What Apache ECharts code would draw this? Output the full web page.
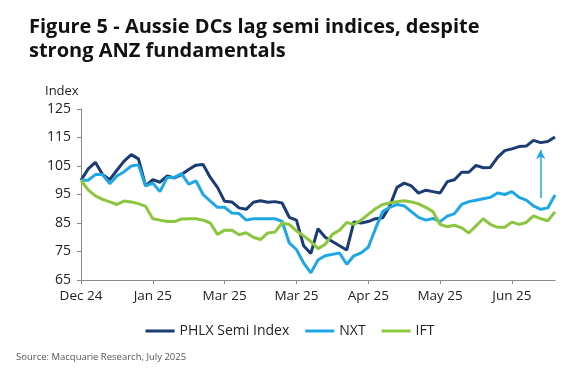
<!DOCTYPE html>
<html>
<head>
<meta charset="utf-8">
<script src="https://cdn.jsdelivr.net/npm/echarts@6/dist/echarts.min.js"></script>
<style>
  html, body { margin: 0; padding: 0; background: #fff; }
  #chart { width: 580px; height: 375px; }
</style>
</head>
<body>
<div id="chart"></div>
<script>
// tick labels shown every 10 points on the x axis
var tickLabels = ["Dec 24", "Jan 25", "Mar 25", "Mar 25", "Apr 25", "May 25", "Jun 25"];

var phlx = [
  100, 104, 106.3, 102, 100.2, 103.5, 106.7, 109, 107.5, 98,
  100.2, 99.3, 101.5, 100.8, 102, 103.8, 105.3, 105.5, 101, 97.5,
  92.6, 92.4, 90.3, 89.8, 92.3, 92.8, 92.3, 92.5, 92, 87,
  86, 77, 74.3, 83, 80, 78.5, 77, 75.5, 85.4, 85,
  85.5, 86.5, 86.8, 91, 97.5, 99, 98, 95.5, 96.5, 96,
  95.5, 99.5, 100.2, 102.8, 102.8, 105.2, 104.4, 104.5, 108, 110.4,
  111, 111.8, 112, 114, 113.2, 113.6, 115.2
];

var nxt = [
  100, 100, 102, 102, 98.8, 101.5, 103, 105, 105.4, 98,
  99, 96, 101, 101, 102.3, 98.6, 99.8, 95, 92.7, 90.5,
  90.5, 88.5, 88.3, 86, 86.5, 86.5, 86.5, 86.5, 85.6, 78,
  75.7, 71, 67.5, 72, 73.5, 74, 74.5, 70.5, 73.5, 74.5,
  76.5, 83, 89, 90.5, 91.5, 91, 89, 87, 86, 86.6,
  85.5, 87.4, 88.3, 91.5, 92.5, 93, 93.5, 94, 95.5, 95,
  96, 94, 93, 91, 89.8, 90.3, 94.8
];

var ift = [
  100, 96.6, 94.5, 93.3, 92.4, 91.5, 92.7, 92.4, 91.8, 90.8,
  86.5, 86, 85.5, 85.5, 86.4, 86.5, 86.5, 86, 85, 81,
  82.5, 82.5, 80.9, 81.6, 80, 79.2, 81.5, 81.8, 85, 84.5,
  82.2, 80.5, 78.5, 76, 77.5, 81, 82.5, 85.2, 84.5, 86,
  88, 90, 91.5, 92, 92.5, 92.8, 92.4, 91.7, 90.5, 89,
  84.5, 83.7, 84.2, 83.3, 81.5, 84, 86.5, 84.5, 83.5, 83.5,
  85.3, 84.5, 85.2, 87.5, 86.5, 85.8, 88.9
];

// one category per observation
var days = phlx.map(function (v, i) { return "d" + i; });

var chart = echarts.init(document.getElementById("chart"));

var option = {
  animation: false,
  textStyle: { fontFamily: "Open Sans, Noto Sans, sans-serif" },
  title: [
    {
      text: "Figure 5 - Aussie DCs lag semi indices, despite\nstrong ANZ fundamentals",
      left: 24,
      top: 10,
      textStyle: { fontSize: 20, fontWeight: "bold", color: "#111", lineHeight: 24 }
    },
    {
      text: "Index",
      left: 40,
      top: 80,
      textStyle: { fontSize: 13, fontWeight: "normal", color: "#222" }
    },
    {
      text: "Source: Macquarie Research, July 2025",
      left: 11,
      top: 347,
      textStyle: { fontSize: 9.5, fontWeight: "normal", color: "#555" }
    }
  ],
  legend: {
    data: ["PHLX Semi Index", "NXT", "IFT"],
    left: "center",
    top: 319,
    icon: "rect",
    itemWidth: 29,
    itemHeight: 3,
    itemGap: 16,
    textStyle: { fontSize: 14, color: "#222" }
  },
  grid: { left: 81, right: 25, top: 109, bottom: 95 },
  xAxis: {
    type: "category",
    data: days,
    boundaryGap: false,
    axisLine: { lineStyle: { color: "#888", width: 1 } },
    axisTick: { interval: 9, length: 4, lineStyle: { color: "#888" } },
    axisLabel: {
      interval: 9,
      fontSize: 13.5,
      color: "#222",
      margin: 9,
      formatter: function (v, i) { return tickLabels[i / 10] || ""; }
    },
    splitLine: { show: false }
  },
  yAxis: {
    type: "value",
    min: 65,
    max: 125,
    interval: 10,
    axisLine: { show: true, lineStyle: { color: "#888", width: 1 } },
    axisTick: { show: true, length: 4, lineStyle: { color: "#888" } },
    axisLabel: { fontSize: 14, color: "#222", margin: 10 },
    splitLine: { show: false }
  },
  series: [
    {
      name: "PHLX Semi Index",
      type: "line",
      data: phlx,
      showSymbol: false,
      color: "#1b3b73",
      lineStyle: { width: 3, color: "#1b3b73" }
    },
    {
      name: "NXT",
      type: "line",
      data: nxt,
      showSymbol: false,
      color: "#1ea7e4",
      lineStyle: { width: 3, color: "#1ea7e4" },
      markLine: {
        silent: true,
        symbol: ["none", "arrow"],
        symbolSize: [7, 9],
        label: { show: false },
        lineStyle: { color: "#1ea7e4", width: 1.5, type: "solid" },
        data: [[{ coord: [days[64], 93.8] }, { coord: [days[64], 110.6] }]]
      }
    },
    {
      name: "IFT",
      type: "line",
      data: ift,
      showSymbol: false,
      color: "#8cc63f",
      lineStyle: { width: 3, color: "#8cc63f" }
    }
  ]
};

chart.setOption(option);
</script>
</body>
</html>
